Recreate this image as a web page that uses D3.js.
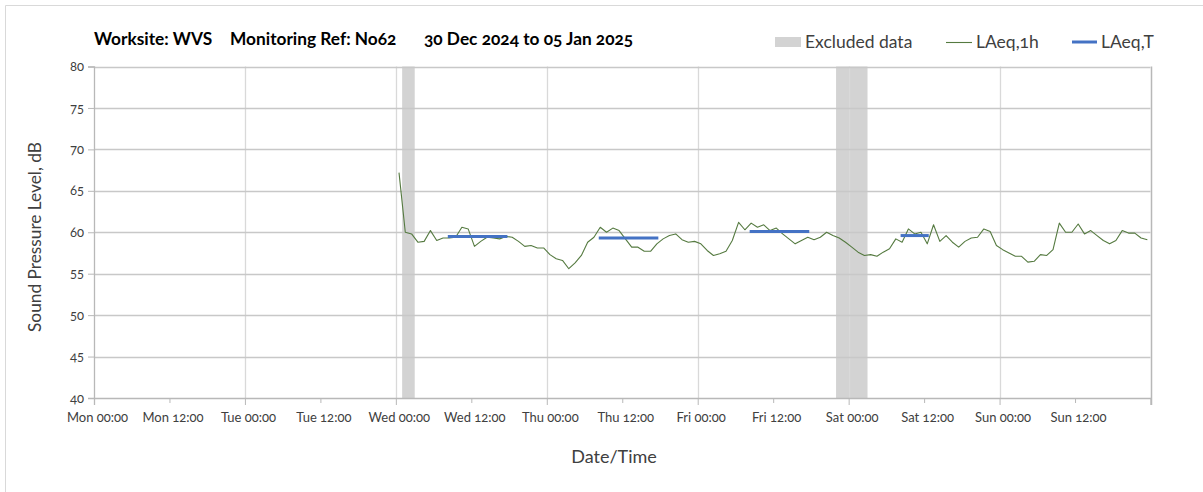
<!DOCTYPE html>
<html>
<head>
<meta charset="utf-8">
<script src="https://cdn.jsdelivr.net/npm/d3@7"></script>
<style>
  html, body { margin: 0; padding: 0; background: #fff; }
  svg { display: block; font-family: "Lato", "Open Sans", sans-serif; font-feature-settings: "onum" 1; font-variant-numeric: oldstyle-nums; }
</style>
</head>
<body>
<svg id="chart" width="1203" height="492"></svg>
<script>
// ---------- data ----------
const titleParts = ["Worksite: WVS", "Monitoring Ref: No62", "30 Dec 2024 to 05 Jan 2025"];
const domainStart = "2024-12-30T00:00:00Z";
const domainEnd = "2025-01-06T00:00:00Z";
const yTicks = [40, 45, 50, 55, 60, 65, 70, 75, 80];

// LAeq,1h hourly values, first value at Wed 01 Jan 2025 00:30, one per hour
const laeqStart = "2025-01-01T00:30:00Z";
const laeq1h = [
  67.2, 60.0, 59.8, 58.8, 58.9, 60.2, 59.0, 59.3, 59.3, 59.4, 60.6, 60.4,
  58.3, 58.9, 59.4, 59.3, 59.2, 59.5, 59.4, 58.9, 58.3, 58.4, 58.1, 58.1,
  57.3, 56.8, 56.6, 55.6, 56.3, 57.2, 58.8, 59.4, 60.6, 60.0, 60.5, 60.2,
  59.2, 58.2, 58.2, 57.7, 57.7, 58.6, 59.2, 59.6, 59.8, 59.1, 58.8, 58.9,
  58.6, 57.8, 57.2, 57.4, 57.7, 59.0, 61.2, 60.3, 61.1, 60.6, 60.9, 60.2,
  60.5, 59.8, 59.2, 58.6, 59.0, 59.4, 59.1, 59.4, 60.0, 59.6, 59.3, 58.8,
  58.2, 57.6, 57.2, 57.3, 57.1, 57.6, 58.0, 59.2, 58.8, 60.4, 59.8, 60.0,
  58.6, 60.9, 58.9, 59.6, 58.8, 58.2, 58.9, 59.3, 59.4, 60.4, 60.1, 58.4,
  57.9, 57.5, 57.1, 57.1, 56.4, 56.5, 57.3, 57.2, 57.9, 61.1, 60.0, 60.0,
  61.0, 59.8, 60.2, 59.6, 59.0, 58.6, 59.0, 60.2, 59.9, 59.9, 59.3, 59.1
];

// Excluded data periods
const excludedStart = ["2025-01-01T01:00:00Z", "2025-01-03T22:00:00Z"];
const excludedEnd   = ["2025-01-01T03:00:00Z", "2025-01-04T03:00:00Z"];

// LAeq,T periods
const laeqTStart = ["2025-01-01T08:30:00Z", "2025-01-02T08:30:00Z", "2025-01-03T08:30:00Z", "2025-01-04T08:30:00Z"];
const laeqTEnd   = ["2025-01-01T17:30:00Z", "2025-01-02T17:30:00Z", "2025-01-03T17:30:00Z", "2025-01-04T12:30:00Z"];
const laeqTValue = [59.5, 59.3, 60.1, 59.6];

const legendLabels = ["Excluded data", "LAeq,1h", "LAeq,T"];

// ---------- layout ----------
const svg = d3.select("#chart");
const plot = { left: 94, right: 1150.5, top: 66.5, bottom: 398 };

const x = d3.scaleUtc()
  .domain([new Date(domainStart), new Date(domainEnd)])
  .range([plot.left, plot.right]);
const y = d3.scaleLinear().domain([40, 80]).range([plot.bottom, plot.top]);

const HOUR = 3600 * 1000;
const t0 = new Date(laeqStart).getTime();
const series = laeq1h.map((v, i) => ({ t: new Date(t0 + i * HOUR), v }));

// outer frame (left and top edges visible)
svg.append("path").attr("d", "M5.5,492 V5.5 H1203")
  .attr("fill", "none").attr("stroke", "#d9d9d9").attr("stroke-width", 1);

// excluded bands (under gridlines)
const bands = excludedStart.map((s, i) => ({ s: new Date(s), e: new Date(excludedEnd[i]) }));
svg.append("g").selectAll("rect").data(bands).join("rect")
  .attr("x", d => x(d.s)).attr("width", d => x(d.e) - x(d.s))
  .attr("y", plot.top).attr("height", plot.bottom - plot.top)
  .attr("fill", "#d3d3d3");

// vertical gridlines at each day
const dayTicks = d3.utcDay.range(new Date(domainStart), new Date(domainEnd), 1).slice(1);
svg.append("g").selectAll("line").data(dayTicks).join("line")
  .attr("x1", d => Math.round(x(d)) + 0.5).attr("x2", d => Math.round(x(d)) + 0.5)
  .attr("y1", plot.top).attr("y2", plot.bottom)
  .attr("stroke", "#d9d9d9").attr("stroke-width", 1.3);

// horizontal gridlines
svg.append("g").selectAll("line").data(yTicks.filter(v => v > 40)).join("line")
  .attr("x1", plot.left).attr("x2", plot.right)
  .attr("y1", d => Math.round(y(d)) + 0.5).attr("y2", d => Math.round(y(d)) + 0.5)
  .attr("stroke", "#c8c8c8").attr("stroke-width", 1.3);

// right border
svg.append("line")
  .attr("x1", Math.round(plot.right) + 0.5).attr("x2", Math.round(plot.right) + 0.5)
  .attr("y1", plot.top).attr("y2", plot.bottom + 7)
  .attr("stroke", "#b8b8b8").attr("stroke-width", 1.5);

// y axis
const yAxis = d3.axisLeft(y).tickValues(yTicks).tickSize(6).tickPadding(4);
const gy = svg.append("g").attr("transform", `translate(${plot.left},0)`).call(yAxis);
gy.select(".domain").attr("stroke", "#b8b8b8").attr("stroke-width", 1.3);
gy.selectAll(".tick line").attr("stroke", "#b8b8b8");
gy.selectAll(".tick text").attr("font-size", 13).attr("fill", "#404040")
  .attr("font-family", "Lato, sans-serif");

// x axis
const xTicks = d3.utcHour.every(12).range(new Date(domainStart), new Date(domainEnd));
const xAxis = d3.axisBottom(x).tickValues(xTicks).tickSize(7).tickPadding(8)
  .tickFormat(d3.utcFormat("%a %H:%M"));
const gx = svg.append("g").attr("transform", `translate(0,${plot.bottom})`).call(xAxis);
gx.select(".domain").attr("stroke", "#b8b8b8").attr("stroke-width", 1.3);
gx.selectAll(".tick line").attr("stroke", "#b8b8b8")
  .attr("y2", d => d.getUTCHours() === 0 ? 7 : 5);
gx.selectAll(".tick text").attr("font-size", 13).attr("fill", "#404040")
  .attr("font-family", "Lato, sans-serif").attr("dx", 3);

// LAeq,1h line
svg.append("path").datum(series)
  .attr("fill", "none").attr("stroke", "#557a40").attr("stroke-width", 1.1)
  .attr("stroke-linejoin", "round")
  .attr("d", d3.line().x(d => x(d.t)).y(d => y(d.v)));

// LAeq,T lines
const tPeriods = laeqTStart.map((s, i) => ({ s: new Date(s), e: new Date(laeqTEnd[i]), v: laeqTValue[i] }));
svg.append("g").selectAll("line").data(tPeriods).join("line")
  .attr("x1", d => x(d.s)).attr("x2", d => x(d.e))
  .attr("y1", d => y(d.v)).attr("y2", d => y(d.v))
  .attr("stroke", "#4472c4").attr("stroke-width", 3).attr("stroke-linecap", "square");

// title
const titleX = [94, 230, 424];
svg.append("g").selectAll("text").data(titleParts).join("text")
  .attr("x", (d, i) => titleX[i]).attr("y", 45)
  .attr("font-size", 17.3).attr("font-weight", "bold").attr("fill", "#000")
  .text(d => d);

// legend
const lg = svg.append("g");
lg.append("rect").attr("x", 775).attr("y", 37).attr("width", 26).attr("height", 10).attr("fill", "#d3d3d3");
lg.append("line").attr("x1", 946).attr("x2", 972).attr("y1", 42.5).attr("y2", 42.5)
  .attr("stroke", "#557a40").attr("stroke-width", 1.1);
lg.append("line").attr("x1", 1072).attr("x2", 1097).attr("y1", 42).attr("y2", 42)
  .attr("stroke", "#4472c4").attr("stroke-width", 3);
const legendX = [805, 976, 1101];
lg.selectAll("text").data(legendLabels).join("text")
  .attr("x", (d, i) => legendX[i]).attr("y", 48)
  .attr("font-size", 17.5).attr("fill", "#404040").text(d => d);

// axis titles
svg.append("text").attr("transform", "translate(41,237) rotate(-90)")
  .attr("text-anchor", "middle").attr("font-size", 17.3).attr("fill", "#404040")
  .text("Sound Pressure Level, dB");
svg.append("text").attr("x", 614).attr("y", 463)
  .attr("text-anchor", "middle").attr("font-size", 18).attr("fill", "#404040")
  .text("Date/Time");
</script>
</body>
</html>
